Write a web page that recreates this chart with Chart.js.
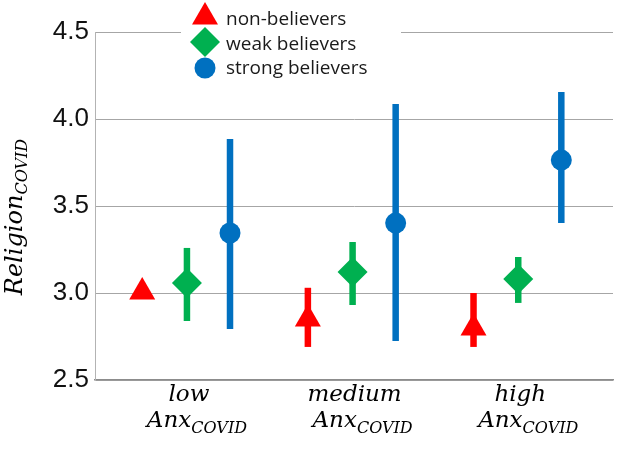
<!DOCTYPE html>
<html>
<head>
<meta charset="utf-8">
<script src="https://cdn.jsdelivr.net/npm/chart.js@4.4.1/dist/chart.umd.min.js"></script>
<style>
  html, body { margin: 0; padding: 0; background: #fff; }
  #wrap { width: 628px; height: 449px; }
</style>
</head>
<body>
<div id="wrap"><canvas id="chart" width="628" height="449"></canvas></div>
<script>
// categories + series
const categories = ['low', 'medium', 'high'];
const seriesNames = ['non-believers', 'weak believers', 'strong believers'];

const nonMean = [3.006, 2.851, 2.799];
const nonLow = [null, 2.69, 2.69];
const nonHigh = [null, 3.03, 3.00];

const weakMean = [3.057, 3.121, 3.080];
const weakLow = [2.839, 2.931, 2.943];
const weakHigh = [3.259, 3.293, 3.207];

const strongMean = [3.345, 3.402, 3.764];
const strongLow = [2.793, 2.724, 3.402];
const strongHigh = [3.885, 4.086, 4.155];

const yTicks = [2.5, 3.0, 3.5, 4.0, 4.5];

// dodge inside each group (x units)
const dodge = [-0.27, 0, 0.26];
const colors = ['#ff0000', '#00b050', '#0070c0'];
const styles = ['triangle', 'rectRot', 'circle'];
const radii = [15, 15, 10.5];

const means = [nonMean, weakMean, strongMean];
const lows = [nonLow, weakLow, strongLow];
const highs = [nonHigh, weakHigh, strongHigh];

const datasets = means.map((arr, k) => ({
    label: seriesNames[k],
    data: arr.map((v, i) => ({ x: i + dodge[k], y: v })),
    pointStyle: styles[k],
    pointRadius: radii[k],
    pointBackgroundColor: colors[k],
    pointBorderColor: colors[k],
    pointBorderWidth: 0,
    showLine: false
}));

// vertical error bars, drawn under the markers
const errorBars = {
    id: 'errorBars',
    beforeDatasetsDraw(chart) {
        const ctx = chart.ctx;
        const xs = chart.scales.x, ys = chart.scales.y;
        ctx.save();
        ctx.lineWidth = 6.5;
        ctx.lineCap = 'butt';
        lows.forEach((lo, k) => {
            ctx.strokeStyle = colors[k];
            lo.forEach((v, i) => {
                if (v == null) return;
                const px = xs.getPixelForValue(i + dodge[k]);
                ctx.beginPath();
                ctx.moveTo(px, ys.getPixelForValue(v));
                ctx.lineTo(px, ys.getPixelForValue(highs[k][i]));
                ctx.stroke();
            });
        });
        ctx.restore();
    }
};

function marker(ctx, style, x, y, r, color) {
    ctx.fillStyle = color;
    ctx.beginPath();
    if (style === 'triangle') {
        ctx.moveTo(x, y - r);
        ctx.lineTo(x + r * Math.sin(2 * Math.PI / 3), y + r / 2);
        ctx.lineTo(x - r * Math.sin(2 * Math.PI / 3), y + r / 2);
    } else if (style === 'rectRot') {
        ctx.moveTo(x - r, y);
        ctx.lineTo(x, y - r);
        ctx.lineTo(x + r, y);
        ctx.lineTo(x, y + r);
    } else {
        ctx.arc(x, y, r, 0, Math.PI * 2);
    }
    ctx.closePath();
    ctx.fill();
}

const serif = '"DejaVu Serif"';

// legend, axis title and two-line category labels with subscripts
const decor = {
    id: 'decor',
    afterDraw(chart) {
        const ctx = chart.ctx;
        const xs = chart.scales.x;
        ctx.save();

        // legend box cuts the top grid line
        ctx.fillStyle = '#fff';
        ctx.fillRect(181, 27, 220, 10);
        const rowY = [17, 42, 68];
        const baseY = [25, 50, 74];
        seriesNames.forEach((name, k) => {
            marker(ctx, styles[k], 205, rowY[k], radii[k], colors[k]);
            ctx.fillStyle = '#1a1a1a';
            ctx.font = '19px "Open Sans"';
            ctx.textAlign = 'left';
            ctx.textBaseline = 'alphabetic';
            ctx.fillText(name, 226, baseY[k]);
        });

        // y title: Religion_COVID
        ctx.fillStyle = '#000';
        ctx.translate(22, 217);
        ctx.rotate(-Math.PI / 2);
        ctx.font = 'italic 24px ' + serif;
        const w1 = ctx.measureText('Religion').width;
        ctx.font = 'italic 16px ' + serif;
        const w2 = ctx.measureText('COVID').width;
        const sx = -(w1 + w2) / 2;
        ctx.font = 'italic 24px ' + serif;
        ctx.fillText('Religion', sx, 0);
        ctx.font = 'italic 16px ' + serif;
        ctx.fillText('COVID', sx + w1, 5);
        ctx.setTransform(1, 0, 0, 1, 0, 0);

        // x labels
        categories.forEach((c, i) => {
            const px = xs.getPixelForValue(i);
            ctx.textAlign = 'center';
            ctx.font = 'italic 23px ' + serif;
            ctx.fillText(c, px + 2, 401);
            ctx.textAlign = 'left';
            const a = ctx.measureText('Anx').width;
            ctx.font = 'italic 16px ' + serif;
            const b = ctx.measureText('COVID').width;
            const left = px + 10 - (a + b) / 2;
            ctx.font = 'italic 23px ' + serif;
            ctx.fillText('Anx', left, 427);
            ctx.font = 'italic 16px ' + serif;
            ctx.fillText('COVID', left + a, 433);
        });
        ctx.restore();
    }
};

new Chart(document.getElementById('chart'), {
    type: 'scatter',
    data: { datasets: datasets },
    options: {
        responsive: false,
        animation: false,
        events: [],
        layout: { padding: { top: 32, right: 3, left: 0, bottom: 0 } },
        plugins: { legend: { display: false }, tooltip: { enabled: false } },
        scales: {
            x: {
                type: 'linear',
                min: -0.555,
                max: 2.572,
                grid: { display: false, drawTicks: false },
                border: { display: true, color: '#8c8c8c', width: 1.5 },
                ticks: { display: false },
                afterFit: (s) => { s.height = 69; }
            },
            y: {
                min: 2.5,
                max: 4.5,
                afterBuildTicks: (s) => { s.ticks = yTicks.map(v => ({ value: v })); },
                grid: { color: '#a6a6a6', lineWidth: 1, drawTicks: false },
                border: { display: true, color: '#b3b3b3', width: 1 },
                ticks: {
                    padding: 6,
                    color: '#111',
                    font: { family: '"Liberation Sans", Arial', size: 26 },
                    callback: (v) => v.toFixed(1)
                },
                afterFit: (s) => { s.width = 95; }
            }
        }
    },
    plugins: [errorBars, decor]
});
</script>
</body>
</html>
